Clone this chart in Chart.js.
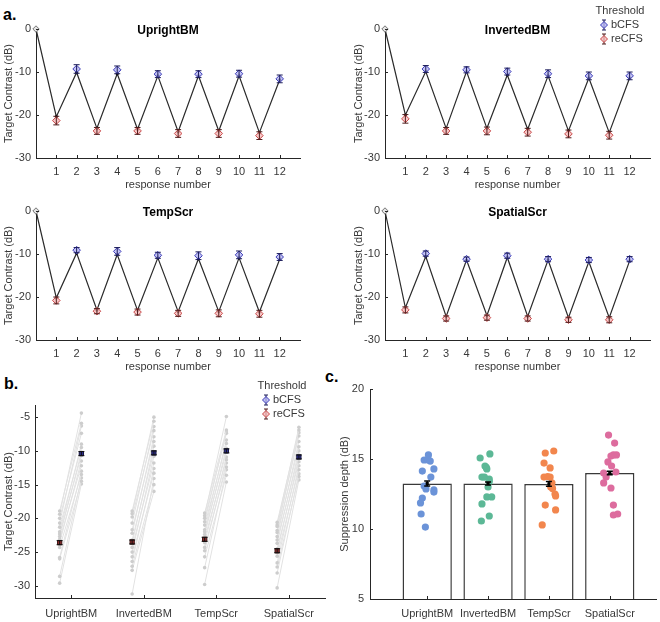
<!DOCTYPE html>
<html>
<head>
<meta charset="utf-8">
<script src="https://cdn.jsdelivr.net/npm/chart.js@4.4.1/dist/chart.umd.min.js"></script>
<style>
  body { margin: 0; background: #fff; width: 660px; height: 622px; position: relative; overflow: hidden;
         font-family: "Liberation Sans", Arial, sans-serif; }
  canvas { position: absolute; }
  .plab { position: absolute; font-weight: bold; font-size: 16px; color: #000; }
</style>
</head>
<body>
<div class="plab" style="left:3px;top:6px">a.</div>
<div class="plab" style="left:4px;top:375px">b.</div>
<div class="plab" style="left:325px;top:368px">c.</div>

<canvas id="aUpright" width="330" height="192" style="left:0;top:0"></canvas>
<canvas id="aInverted" width="310" height="192" style="left:350px;top:0"></canvas>
<canvas id="aTemp" width="330" height="192" style="left:0;top:182px"></canvas>
<canvas id="aSpatial" width="310" height="192" style="left:350px;top:182px"></canvas>
<canvas id="bChart" width="330" height="247" style="left:0;top:375px"></canvas>
<canvas id="cChart" width="330" height="247" style="left:330px;top:375px"></canvas>

<script>
// ---- datos ----
const responses = [1, 2, 3, 4, 5, 6, 7, 8, 9, 10, 11, 12];
const aTicks = [-30, -20, -10, 0];
const conditions = ['UprightBM', 'InvertedBM', 'TempScr', 'SpatialScr'];
const thresholdNames = ['bCFS', 'reCFS'];

// panel a: umbral por respuesta (impar = reCFS, par = bCFS), error, y la escalera (incluye el 0 inicial)
const uprightThr = [-21.3, -9.3, -23.7, -9.5, -23.7, -10.5, -24.3, -10.5, -24.3, -10.4, -24.8, -11.6];
const uprightErr = [1.0, 1.0, 0.8, 0.9, 0.8, 0.8, 0.9, 0.8, 0.9, 0.8, 0.9, 0.9];
const uprightTrack = [0, -20.4, -10.1, -23.1, -10.4, -23.3, -10.9, -23.9, -10.9, -23.7, -10.9, -24.1, -11.8];

const invertedThr = [-20.9, -9.3, -23.7, -9.5, -23.7, -9.9, -24.0, -10.4, -24.4, -10.9, -24.7, -10.9];
const invertedErr = [1.0, 0.8, 0.8, 0.7, 0.9, 0.8, 0.9, 0.9, 0.9, 0.9, 0.9, 0.9];
const invertedTrack = [0, -20.0, -9.9, -23.1, -9.9, -23.1, -10.7, -23.3, -10.9, -23.7, -11.4, -24.1, -11.4];

const tempThr = [-20.8, -9.1, -23.3, -9.4, -23.5, -10.3, -23.8, -10.4, -23.8, -10.2, -23.9, -10.7];
const tempErr = [0.8, 0.6, 0.6, 0.9, 0.7, 0.7, 0.7, 0.9, 0.8, 0.9, 0.8, 0.8];
const tempTrack = [0, -20.2, -9.8, -23.0, -10.1, -23.1, -10.9, -23.4, -11.1, -23.4, -10.9, -23.5, -11.2];

const spatialThr = [-23.0, -9.9, -25.0, -11.2, -24.8, -10.4, -25.0, -11.2, -25.3, -11.4, -25.3, -11.2];
const spatialErr = [0.7, 0.6, 0.6, 0.5, 0.6, 0.6, 0.6, 0.6, 0.6, 0.6, 0.7, 0.6];
const spatialTrack = [0, -22.5, -10.6, -24.5, -11.4, -24.3, -10.8, -24.5, -11.4, -24.8, -11.8, -24.8, -11.6];

// panel b: sujetos individuales (mismo orden de sujeto en re y b) y medias
const bTicks = [-30, -25, -20, -15, -10, -5];
const uprightRe = [-18.9, -19.4, -20.0, -20.7, -21.3, -22.0, -22.3, -22.7, -23.1, -23.6, -24.3, -25.8, -26.0, -28.6, -29.6];
const uprightB = [-5.9, -4.4, -7.4, -6.3, -9.5, -9.0, -10.7, -10.2, -12.2, -11.5, -13.5, -13.0, -14.5, -14.0, -14.9];
const invertedRe = [-18.9, -19.3, -19.8, -20.7, -21.7, -22.2, -23.2, -23.7, -24.3, -25.0, -25.7, -26.4, -27.1, -27.7, -31.2];
const invertedB = [-5.6, -5.0, -7.0, -6.4, -8.6, -7.9, -10.1, -9.3, -11.8, -10.8, -13.3, -12.6, -15.0, -16.0, -14.1];
const tempRe = [-19.2, -19.6, -20.0, -20.5, -21.0, -21.7, -22.0, -22.4, -23.0, -23.6, -24.3, -24.8, -25.7, -27.3, -29.8];
const tempB = [-6.9, -4.9, -7.4, -7.2, -8.9, -8.4, -10.2, -9.6, -11.3, -10.9, -12.4, -11.8, -13.6, -12.8, -14.6];
const spatialRe = [-20.6, -21.0, -21.2, -21.8, -22.1, -22.7, -23.2, -23.7, -24.5, -25.0, -25.6, -26.6, -27.2, -28.1, -30.3];
const spatialB = [-6.9, -6.5, -7.8, -7.3, -9.4, -8.6, -10.6, -10.0, -11.6, -11.0, -12.8, -12.2, -13.8, -13.4, -14.3];
const reMean = [-23.6, -23.5, -23.1, -24.8];
const reSem = [0.3, 0.3, 0.3, 0.3];
const bMean = [-10.4, -10.3, -10.0, -10.9];
const bSem = [0.3, 0.3, 0.3, 0.3];

// panel c: profundidad de supresión
const cTicks = [5, 10, 15, 20];
const depthMean = [13.25, 13.25, 13.22, 14.0];
const depthSem = [0.17, 0.1, 0.17, 0.12];
const uprightDepth = [15.29, 14.93, 14.93, 14.85, 14.14, 14.29, 13.71, 13.07, 12.86, 12.79, 12.64, 12.21, 11.86, 11.07, 10.14];
const uprightJitter = [0.02, -0.05, 0.02, 0.05, -0.08, 0.11, 0.06, -0.05, -0.02, 0.11, 0.11, -0.08, -0.11, -0.10, -0.03];
const invertedDepth = [15.36, 15.07, 14.5, 14.4, 14.29, 13.71, 13.7, 13.57, 13.4, 13.0, 12.29, 12.29, 11.79, 10.93, 10.57];
const invertedJitter = [0.03, -0.13, -0.05, -0.03, -0.02, -0.10, -0.06, 0.02, 0.02, 0.0, -0.02, 0.06, -0.10, 0.02, -0.11];
const tempDepth = [15.57, 15.43, 14.71, 14.36, 13.75, 13.71, 13.71, 13.3, 13.0, 12.9, 12.5, 12.36, 11.71, 11.36, 10.29];
const tempJitter = [0.08, -0.06, -0.08, 0.02, -0.02, -0.08, 0.02, 0.05, 0.03, 0.06, 0.10, 0.11, -0.06, 0.11, -0.11];
const spatialDepth = [16.71, 16.14, 15.29, 15.29, 15.21, 14.79, 14.5, 14.07, 14.0, 13.71, 13.29, 12.93, 11.71, 11.07, 11.0];
const spatialJitter = [-0.02, 0.08, 0.06, 0.11, 0.02, -0.03, 0.03, 0.10, -0.10, -0.06, -0.10, 0.02, 0.06, 0.13, 0.06];

// ---- estilos ----
const AXIS = '#262626';
const blueEdge = '#3c3cb8', blueFill = 'rgba(175,175,240,0.75)', blueBar = '#1c1c5a';
const redEdge = '#c84848', redFill = 'rgba(245,180,180,0.75)', redBar = '#4e1c1c';
const dotColors = ['#6b93d8', '#5cb896', '#f2864d', '#dd6c9e'];

Chart.defaults.font.family = '"Liberation Sans", Arial, sans-serif';
Chart.defaults.font.size = 11;
Chart.defaults.color = '#383838';

// barras de error: cualquier dataset con "errors"
const errorBars = {
  id: 'errorBars',
  afterDatasetsDraw(chart) {
    const ctx = chart.ctx, y = chart.scales.y;
    chart.data.datasets.forEach((ds, i) => {
      if (!ds.errors) return;
      const meta = chart.getDatasetMeta(i);
      const cap = ds.capWidth || 3;
      ctx.save();
      ctx.strokeStyle = ds.errorColor || '#000';
      ctx.lineWidth = ds.errorWidth || 1;
      meta.data.forEach((pt, j) => {
        const v = ds.data[j].y, e = ds.errors[j];
        const top = y.getPixelForValue(v + e), bot = y.getPixelForValue(v - e);
        ctx.beginPath();
        ctx.moveTo(pt.x, top); ctx.lineTo(pt.x, bot);
        ctx.moveTo(pt.x - cap, top); ctx.lineTo(pt.x + cap, top);
        ctx.moveTo(pt.x - cap, bot); ctx.lineTo(pt.x + cap, bot);
        ctx.stroke();
      });
      ctx.restore();
    });
  }
};

// marcas de eje hacia dentro (estilo matlab)
const inTicks = {
  id: 'inTicks',
  afterDraw(chart) {
    const { ctx, chartArea: a, scales: { x, y } } = chart;
    ctx.save();
    ctx.strokeStyle = AXIS;
    ctx.lineWidth = 1;
    ctx.beginPath();
    x.ticks.forEach(t => {
      const px = Math.round(x.getPixelForValue(t.value)) + 0.5;
      ctx.moveTo(px, a.bottom); ctx.lineTo(px, a.bottom - 3);
    });
    y.ticks.forEach(t => {
      const py = Math.round(y.getPixelForValue(t.value)) + 0.5;
      ctx.moveTo(a.left, py); ctx.lineTo(a.left + 3, py);
    });
    ctx.stroke();
    ctx.restore();
  }
};

const panelTitle = {
  id: 'panelTitle',
  afterDraw(chart, args, opts) {
    if (!opts.text) return;
    const { ctx, chartArea: a } = chart;
    ctx.save();
    ctx.font = 'bold 12px "Liberation Sans", Arial, sans-serif';
    ctx.fillStyle = '#000';
    ctx.textAlign = 'center';
    ctx.textBaseline = 'middle';
    ctx.fillText(opts.text, (a.left + a.right) / 2, a.top + 2);
    ctx.restore();
  }
};

const thrLegend = {
  id: 'thrLegend',
  afterDraw(chart, args, o) {
    if (!o.x) return;
    const ctx = chart.ctx;
    ctx.save();
    ctx.font = '11px "Liberation Sans", Arial, sans-serif';
    ctx.fillStyle = '#383838';
    ctx.textBaseline = 'middle';
    ctx.textAlign = 'center';
    ctx.fillText('Threshold', o.x, o.y);
    const styles = [[blueEdge, blueFill, blueBar], [redEdge, redFill, redBar]];
    thresholdNames.forEach((name, k) => {
      const yy = o.y + 14 * (k + 1), mx = o.x - 16;
      const [edge, fill, bar] = styles[k];
      ctx.strokeStyle = bar; ctx.lineWidth = 1;
      ctx.beginPath();
      ctx.moveTo(mx, yy - 5); ctx.lineTo(mx, yy + 5);
      ctx.moveTo(mx - 2, yy - 5); ctx.lineTo(mx + 2, yy - 5);
      ctx.moveTo(mx - 2, yy + 5); ctx.lineTo(mx + 2, yy + 5);
      ctx.stroke();
      ctx.fillStyle = fill; ctx.strokeStyle = edge;
      ctx.beginPath();
      ctx.moveTo(mx, yy - 3.5); ctx.lineTo(mx + 3.5, yy); ctx.lineTo(mx, yy + 3.5); ctx.lineTo(mx - 3.5, yy); ctx.closePath();
      ctx.fill(); ctx.stroke();
      ctx.fillStyle = '#383838'; ctx.textAlign = 'left';
      ctx.fillText(name, mx + 7, yy);
    });
    ctx.restore();
  }
};

Chart.register(errorBars, inTicks, panelTitle, thrLegend);

function fixTicks(vals) {
  return s => { s.ticks = vals.map(v => ({ value: v })); };
}

function axisBase(extra) {
  return Object.assign({
    type: 'linear',
    grid: { display: false, drawTicks: false },
    border: { display: true, color: AXIS, width: 1 }
  }, extra);
}

// ---- panel a ----
function makeA(id, name, thr, err, track, yAxisW, rightPad, legend) {
  const even = responses.filter(r => r % 2 === 0);
  const odd = responses.filter(r => r % 2 === 1);
  new Chart(document.getElementById(id), {
    type: 'line',
    data: {
      datasets: [
        { label: 'bCFS', data: even.map(r => ({ x: r, y: thr[r - 1] })), errors: even.map(r => err[r - 1]),
          errorColor: blueBar, capWidth: 3, showLine: false, pointStyle: 'rectRot', pointRadius: 3.8,
          borderColor: blueEdge, backgroundColor: blueFill, pointBorderWidth: 1, clip: false },
        { label: 'reCFS', data: odd.map(r => ({ x: r, y: thr[r - 1] })), errors: odd.map(r => err[r - 1]),
          errorColor: redBar, capWidth: 3, showLine: false, pointStyle: 'rectRot', pointRadius: 3.8,
          borderColor: redEdge, backgroundColor: redFill, pointBorderWidth: 1, clip: false },
        { label: 'start', data: [{ x: 0, y: track[0] }], showLine: false, pointStyle: 'rectRot', pointRadius: 3.2,
          borderColor: '#777', backgroundColor: '#e4e4e4', pointBorderWidth: 1, clip: false },
        { label: 'track', data: track.map((v, i) => ({ x: i, y: v })), borderColor: '#2a2a2a', borderWidth: 1.2,
          pointRadius: 1.6, pointBackgroundColor: '#111', pointBorderWidth: 0, tension: 0, clip: false }
      ]
    },
    options: {
      responsive: false,
      animation: false,
      layout: { padding: { top: 29, right: rightPad, left: 0, bottom: 0 } },
      plugins: {
        legend: { display: false }, tooltip: { enabled: false },
        panelTitle: { text: name },
        thrLegend: legend || {}
      },
      scales: {
        x: axisBase({
          min: 0, max: 13,
          afterBuildTicks: fixTicks(responses),
          afterFit: s => { s.height = 34; },
          ticks: { padding: 7, maxRotation: 0, autoSkip: false },
          title: { display: true, text: 'response number', color: '#383838', font: { size: 11 }, padding: { top: 0, bottom: 0 } }
        }),
        y: axisBase({
          min: -30, max: 0,
          afterBuildTicks: fixTicks(aTicks),
          afterFit: s => { s.width = yAxisW; },
          ticks: { padding: 5 },
          title: { display: true, text: 'Target Contrast (dB)', color: '#383838', font: { size: 11 }, padding: { top: 2, bottom: 0 } }
        })
      }
    }
  });
}

makeA('aUpright', conditions[0], uprightThr, uprightErr, uprightTrack, 36, 30);
makeA('aInverted', conditions[1], invertedThr, invertedErr, invertedTrack, 35, 10, { x: 270, y: 11 });
makeA('aTemp', conditions[2], tempThr, tempErr, tempTrack, 36, 30);
makeA('aSpatial', conditions[3], spatialThr, spatialErr, spatialTrack, 35, 10);

// ---- panel b ----
const reOffset = -0.16, bOffset = 0.14;
const subjRe = [uprightRe, invertedRe, tempRe, spatialRe];
const subjB = [uprightB, invertedB, tempB, spatialB];
const bDatasets = [
  { label: 'bCFS', type: 'line', showLine: false, data: bMean.map((v, i) => ({ x: i + 1 + bOffset, y: v })),
    errors: bSem, errorColor: '#111', capWidth: 3, pointStyle: 'rect', pointRadius: 3,
    backgroundColor: '#2e2e8c', borderColor: '#15153f', pointBorderWidth: 1 },
  { label: 'reCFS', type: 'line', showLine: false, data: reMean.map((v, i) => ({ x: i + 1 + reOffset, y: v })),
    errors: reSem, errorColor: '#111', capWidth: 3, pointStyle: 'rect', pointRadius: 3,
    backgroundColor: '#8c2e2e', borderColor: '#3f1515', pointBorderWidth: 1 }
];
subjRe.forEach((reVals, ci) => {
  reVals.forEach((rv, s) => {
    bDatasets.push({
      type: 'line', data: [{ x: ci + 1 + reOffset, y: rv }, { x: ci + 1 + bOffset, y: subjB[ci][s] }],
      borderColor: '#e2e2e2', borderWidth: 1, pointRadius: 1.8, pointBackgroundColor: '#cdcdcd',
      pointBorderWidth: 0, tension: 0
    });
  });
});

new Chart(document.getElementById('bChart'), {
  type: 'line',
  data: { datasets: bDatasets },
  options: {
    responsive: false,
    animation: false,
    layout: { padding: { top: 30, right: 0, left: 0, bottom: 0 } },
    plugins: {
      legend: { display: false }, tooltip: { enabled: false },
      thrLegend: { x: 282, y: 11 }
    },
    scales: {
      x: axisBase({
        min: 0.5, max: 4.5,
        afterBuildTicks: fixTicks([1, 2, 3, 4]),
        afterFit: s => { s.height = 24; },
        ticks: { padding: 9, maxRotation: 0, autoSkip: false, callback: v => conditions[v - 1] }
      }),
      y: axisBase({
        min: -31.8, max: -3.2,
        afterBuildTicks: fixTicks(bTicks),
        afterFit: s => { s.width = 35; },
        ticks: { padding: 5 },
        title: { display: true, text: 'Target Contrast (dB)', color: '#383838', font: { size: 11 }, padding: { top: 2, bottom: 0 } }
      })
    }
  }
});

// ---- panel c ----
const depthVals = [uprightDepth, invertedDepth, tempDepth, spatialDepth];
const depthJitter = [uprightJitter, invertedJitter, tempJitter, spatialJitter];
const cDatasets = [
  { type: 'line', label: 'mean', showLine: false, data: depthMean.map((v, i) => ({ x: i + 1, y: v })),
    errors: depthSem, errorColor: '#000', errorWidth: 1.5, capWidth: 3, pointStyle: 'rect', pointRadius: 2.2,
    backgroundColor: '#000', borderColor: '#000', pointBorderWidth: 0 }
];
depthVals.forEach((vals, ci) => {
  cDatasets.push({
    type: 'line', showLine: false, data: vals.map((v, k) => ({ x: ci + 1 + depthJitter[ci][k], y: v })),
    pointRadius: 3.6, pointBackgroundColor: dotColors[ci], pointBorderWidth: 0
  });
});
cDatasets.push({
  type: 'bar', data: depthMean.map((v, i) => ({ x: i + 1, y: v })), base: 5,
  backgroundColor: '#fff', borderColor: '#3a3a3a', borderWidth: 1.5, borderSkipped: 'bottom',
  barPercentage: 0.81, categoryPercentage: 1
});

new Chart(document.getElementById('cChart'), {
  type: 'bar',
  data: { datasets: cDatasets },
  options: {
    responsive: false,
    animation: false,
    layout: { padding: { top: 14, right: 0, left: 0, bottom: 0 } },
    plugins: { legend: { display: false }, tooltip: { enabled: false } },
    scales: {
      x: axisBase({
        min: 0.06, max: 4.76, offset: false,
        afterBuildTicks: fixTicks([1, 2, 3, 4]),
        afterFit: s => { s.height = 23; },
        ticks: { padding: 8, maxRotation: 0, autoSkip: false, callback: v => conditions[v - 1] }
      }),
      y: axisBase({
        min: 5, max: 20,
        afterBuildTicks: fixTicks(cTicks),
        afterFit: s => { s.width = 40; },
        ticks: { padding: 6 },
        title: { display: true, text: 'Suppression depth (dB)', color: '#383838', font: { size: 11 }, padding: { top: 8, bottom: 0 } }
      })
    }
  }
});
</script>
</body>
</html>
